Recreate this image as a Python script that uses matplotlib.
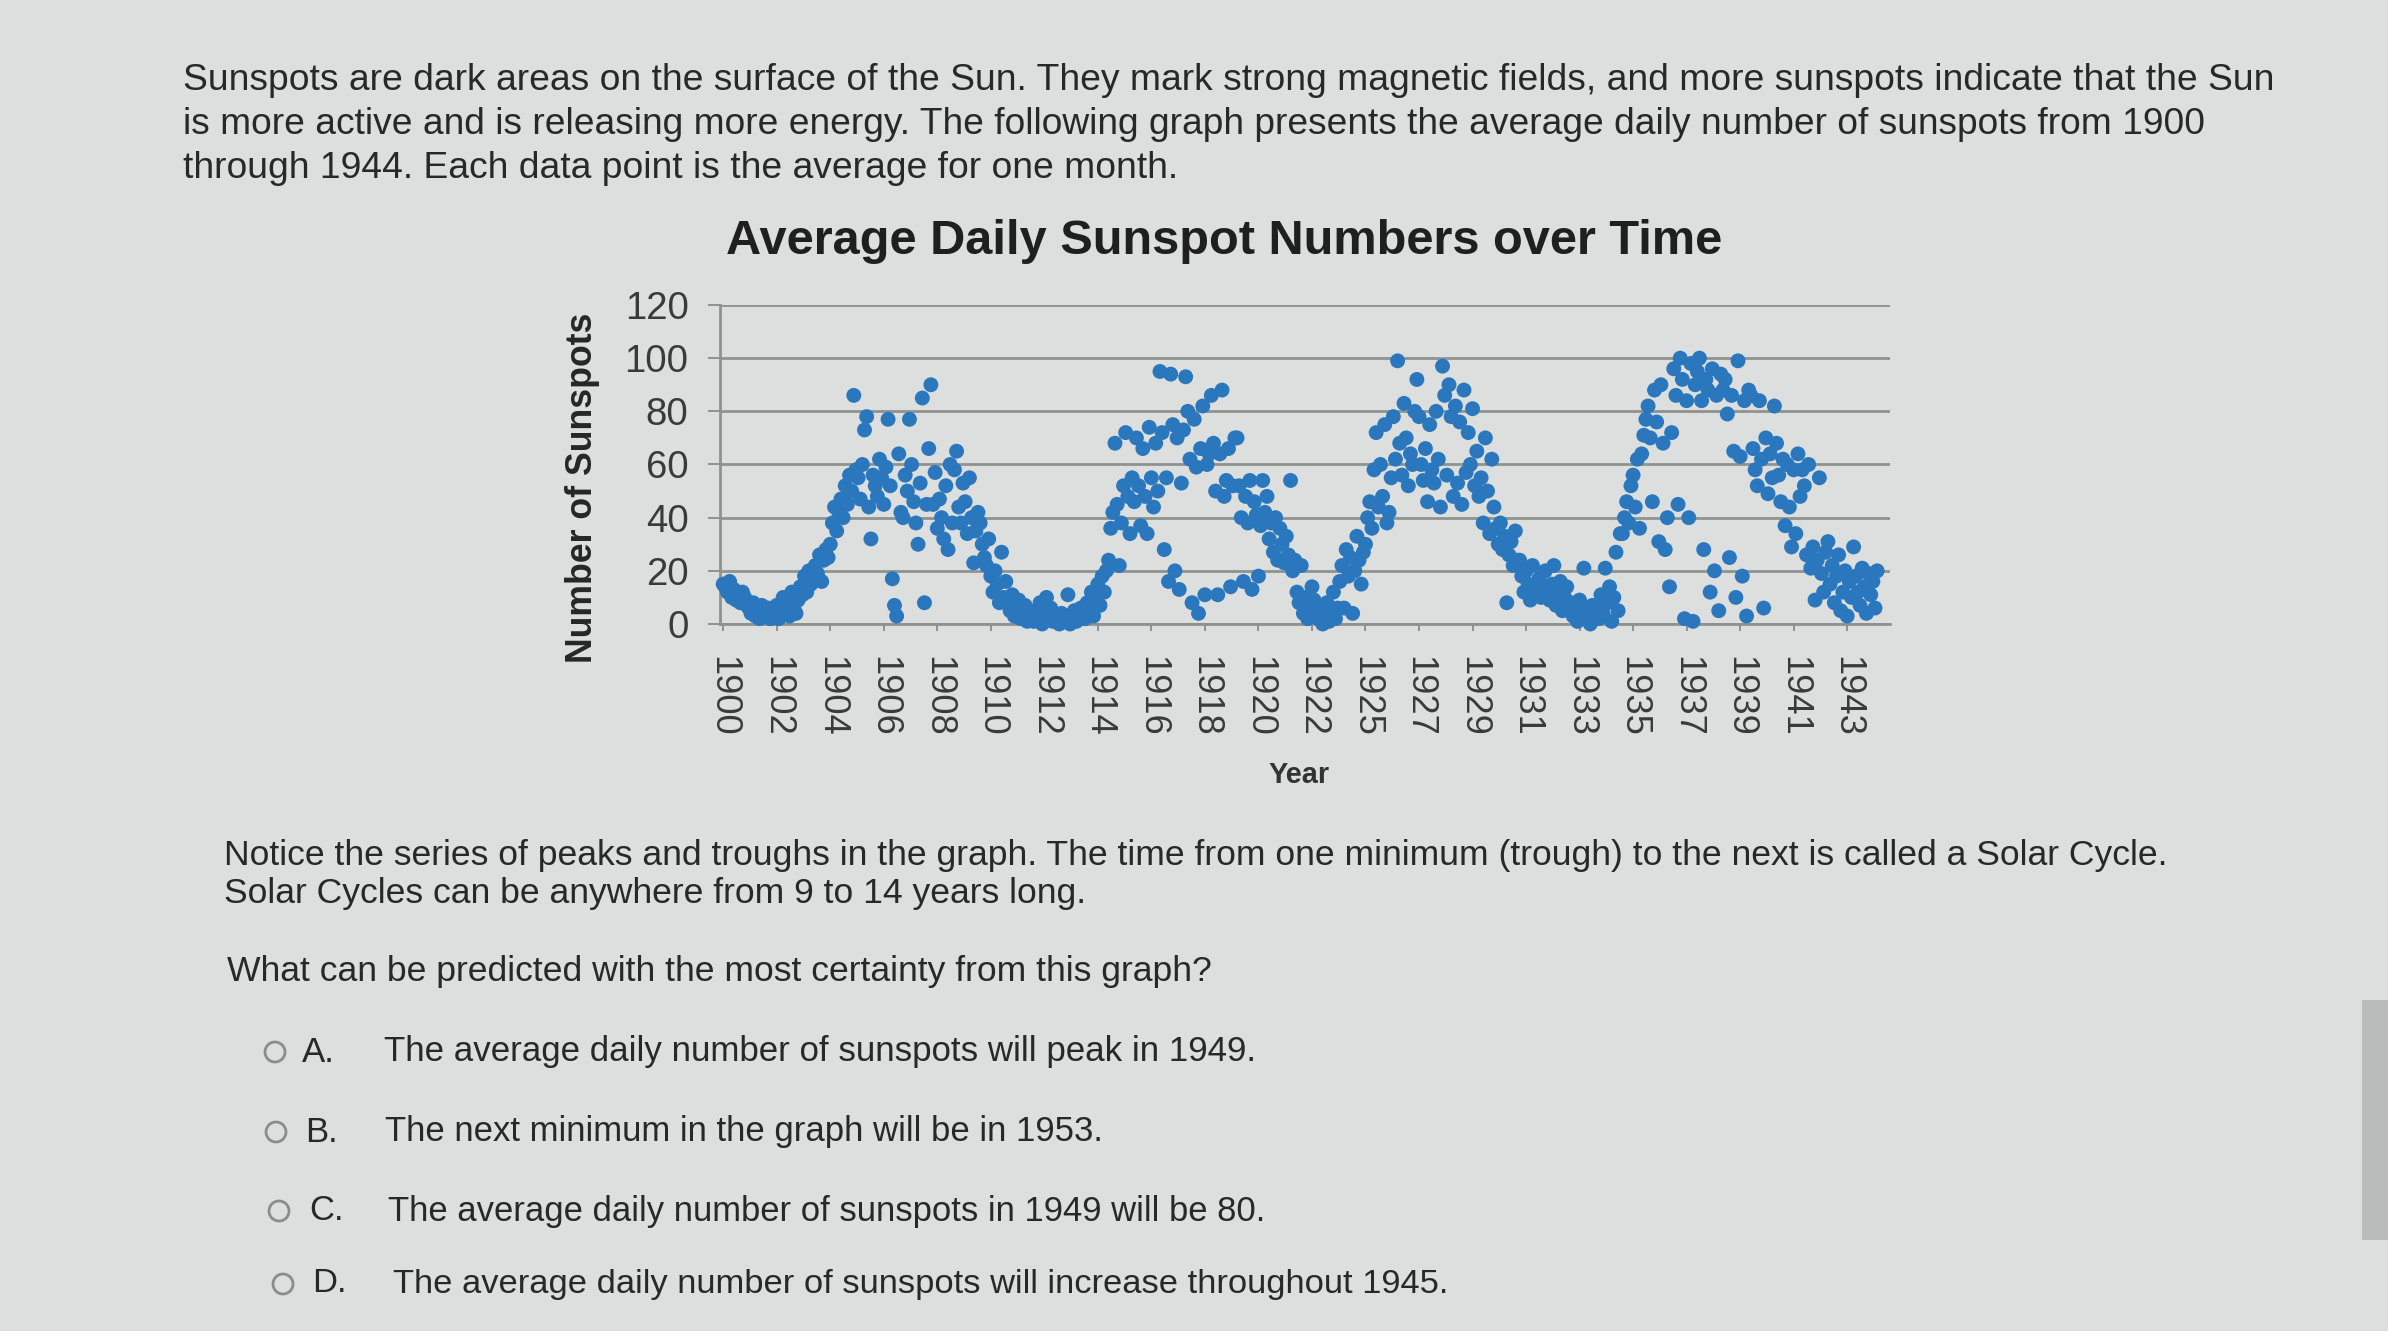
import matplotlib
matplotlib.use("Agg")
import matplotlib.pyplot as plt
from matplotlib import font_manager
from matplotlib.patches import Circle, Rectangle
import numpy as np

# ---------------- data (monthly average daily sunspot numbers) -------------
s1900 = [15, 14, 12, 16, 10, 13, 9, 11, 8, 12, 10, 7]
s1901 = [6, 4, 8, 3, 5, 2, 7, 4, 3, 6, 2, 5]
s1902 = [3, 7, 2, 5, 10, 4, 8, 3, 12, 6, 4, 9]
s1903 = [14, 11, 18, 12, 20, 15, 17, 22, 19, 26, 16, 24]
s1904 = [28, 25, 30, 38, 44, 35, 42, 47, 40, 52, 45, 56]
s1905 = [50, 86, 58, 55, 47, 60, 73, 78, 44, 32, 56, 52]
s1906 = [48, 62, 55, 45, 59, 77, 52, 17, 7, 3, 64, 42]
s1907 = [40, 56, 50, 77, 60, 46, 38, 30, 53, 85, 8, 45]
s1908 = [66, 90, 45, 57, 36, 47, 40, 32, 52, 28, 60, 38]
s1909 = [58, 65, 44, 38, 53, 46, 34, 55, 40, 23, 35, 42]
s1910 = [38, 30, 25, 22, 32, 18, 12, 20, 15, 8, 27, 10]
s1911 = [16, 8, 5, 11, 3, 6, 9, 2, 4, 7, 1, 5]
s1912 = [3, 1, 5, 2, 8, 0, 4, 10, 2, 6, 1, 3]
s1913 = [2, 0, 4, 1, 3, 11, 0, 2, 5, 1, 3, 6]
s1914 = [4, 2, 8, 6, 12, 3, 10, 15, 7, 18, 12, 20]
s1915 = [24, 36, 42, 68, 45, 22, 38, 52, 72, 48, 34, 55]
s1916 = [46, 70, 52, 37, 66, 48, 34, 74, 55, 44, 68, 50]
s1917 = [95, 72, 28, 55, 16, 94, 75, 20, 70, 13, 53, 73]
s1918 = [93, 80, 62, 8, 77, 59, 4, 66, 82, 11, 60, 64]
s1919 = [86, 68, 50, 11, 64, 88, 48, 54, 66, 14, 52, 70]
s1920 = [70, 52, 40, 16, 48, 38, 54, 13, 46, 41, 18, 37]
s1921 = [54, 42, 48, 32, 38, 27, 40, 24, 36, 30, 23, 33]
s1922 = [26, 54, 20, 24, 12, 8, 22, 4, 10, 2, 6, 14]
s1923 = [9, 4, 2, 6, 0, 3, 8, 1, 5, 12, 2, 6]
s1924 = [16, 22, 6, 28, 18, 25, 4, 20, 33, 24, 15, 27]
s1925 = [30, 40, 46, 36, 58, 72, 44, 60, 48, 75, 38, 42]
s1926 = [55, 78, 62, 99, 68, 56, 83, 70, 52, 64, 60, 80]
s1927 = [92, 78, 60, 54, 66, 46, 75, 58, 53, 80, 62, 44]
s1928 = [97, 86, 56, 90, 78, 48, 82, 53, 76, 45, 88, 57]
s1929 = [72, 60, 81, 52, 65, 48, 55, 38, 70, 50, 34, 62]
s1930 = [44, 36, 30, 38, 28, 33, 8, 26, 31, 22, 35, 24]
s1931 = [24, 18, 12, 20, 15, 9, 22, 14, 11, 17, 10, 13]
s1932 = [20, 12, 9, 15, 22, 7, 11, 16, 5, 10, 14, 8]
s1933 = [8, 3, 6, 1, 9, 4, 21, 2, 5, 0, 7, 3]
s1934 = [6, 2, 11, 4, 21, 8, 14, 1, 10, 27, 5, 34]
s1935 = [34, 40, 46, 38, 52, 56, 44, 62, 36, 64, 71, 77]
s1936 = [82, 70, 46, 88, 76, 31, 90, 68, 28, 40, 14, 72]
s1937 = [96, 86, 45, 100, 92, 2, 84, 40, 98, 1, 90, 95]
s1938 = [100, 84, 28, 92, 88, 12, 96, 20, 86, 5, 94, 88]
s1939 = [92, 79, 25, 86, 65, 10, 99, 63, 18, 84, 3, 88]
s1940 = [86, 66, 58, 52, 84, 62, 6, 70, 49, 64, 55, 82]
s1941 = [68, 56, 46, 62, 37, 60, 44, 29, 58, 34, 64, 48]
s1942 = [58, 52, 26, 60, 21, 29, 9, 24, 55, 19, 12, 27]
s1943 = [31, 15, 22, 8, 18, 26, 5, 12, 20, 3, 16, 10]
s1944 = [29, 18, 12, 7, 21, 14, 4, 19, 11, 16, 6, 20]

years = [s1900, s1901, s1902, s1903, s1904, s1905, s1906, s1907, s1908, s1909,
         s1910, s1911, s1912, s1913, s1914, s1915, s1916, s1917, s1918, s1919,
         s1920, s1921, s1922, s1923, s1924, s1925, s1926, s1927, s1928, s1929,
         s1930, s1931, s1932, s1933, s1934, s1935, s1936, s1937, s1938, s1939,
         s1940, s1941, s1942, s1943, s1944]

tick_labels = ["1900", "1902", "1904", "1906", "1908", "1910", "1912", "1914",
               "1916", "1918", "1920", "1922", "1925", "1927", "1929", "1931",
               "1933", "1935", "1937", "1939", "1941", "1943"]
yticks = [0, 20, 40, 60, 80, 100, 120]

title = "Average Daily Sunspot Numbers over Time"
ylabel = "Number of Sunspots"
xlabel = "Year"

para1 = ["Sunspots are dark areas on the surface of the Sun. They mark strong magnetic fields, and more sunspots indicate that the Sun",
         "is more active and is releasing more energy. The following graph presents the average daily number of sunspots from 1900",
         "through 1944. Each data point is the average for one month."]
para2 = ["Notice the series of peaks and troughs in the graph. The time from one minimum (trough) to the next is called a Solar Cycle.",
         "Solar Cycles can be anywhere from 9 to 14 years long."]
question = "What can be predicted with the most certainty from this graph?"
opt_letters = ["A.", "B.", "C.", "D."]
opt_texts = ["The average daily number of sunspots will peak in 1949.",
             "The next minimum in the graph will be in 1953.",
             "The average daily number of sunspots in 1949 will be 80.",
             "The average daily number of sunspots will increase throughout 1945."]

# ---------------- style ----------------
W, H = 2388, 1331
BG = "#dcdfdd"
TXT = "#282828"
GRID = "#8f9390"
DOT = "#2a77bd"

names = {f.name for f in font_manager.fontManager.ttflist}
FONT = "Liberation Sans Narrow" if "Liberation Sans Narrow" in names else "Liberation Sans"

fig = plt.figure(figsize=(W / 100, H / 100), dpi=100)
fig.patch.set_facecolor(BG)
renderer = fig.canvas.get_renderer()

# background overlay axes in pixel coordinates
bg = fig.add_axes([0, 0, 1, 1], zorder=0)
bg.set_xlim(0, W)
bg.set_ylim(H, 0)
bg.axis("off")
bg.add_patch(Rectangle((2362, 1000), 26, 240, color="#b9bcba", lw=0))


def size_for(s, width, weight="normal", rotation=0, dim="width"):
    t = fig.text(0, 0, s, fontsize=20, family=FONT, weight=weight, rotation=rotation)
    bb = t.get_window_extent(renderer)
    t.remove()
    return 20 * width / (bb.width if dim == "width" else bb.height)


def fit_text(x0, x1, yc, s, weight="normal", color=TXT):
    fs = size_for(s, x1 - x0, weight)
    fig.text(x0 / W, 1 - yc / H, s, fontsize=fs, family=FONT, weight=weight,
             color=color, ha="left", va="center")


# paragraph text
for line, (x0, x1, yc) in zip(para1, [(183, 2265, 81), (183, 2201, 125), (183, 1173, 168)]):
    fit_text(x0, x1, yc, line)
for line, (x0, x1, yc) in zip(para2, [(224, 2163, 856), (224, 1084, 894)]):
    fit_text(x0, x1, yc, line)
fit_text(227, 1208, 972, question)

opt_geom = [(275, 302, 384, 1253, 1052), (276, 305, 385, 1104, 1132),
            (279, 309, 388, 1264, 1211), (283, 312, 393, 1444, 1284)]
for letter, text, (cx, lx, tx0, tx1, yc) in zip(opt_letters, opt_texts, opt_geom):
    bg.add_patch(Circle((cx, yc), 10, fill=False, ec="#8a8d8b", lw=2.0))
    fs = size_for(text, tx1 - tx0)
    fig.text(lx / W, 1 - yc / H, letter, fontsize=fs, family=FONT, color=TXT,
             ha="left", va="center")
    fig.text(tx0 / W, 1 - yc / H, text, fontsize=fs, family=FONT, color=TXT,
             ha="left", va="center")

# title and axis labels
fs_title = size_for(title, 996, "bold")
fig.text(1224 / W, 1 - 241 / H, title, fontsize=fs_title, family=FONT, weight="bold",
         color="#1f1f1f", ha="center", va="center")
fs_ylab = size_for(ylabel, 351, "bold", rotation=90, dim="height")
fig.text(583 / W, 1 - 488 / H, ylabel, fontsize=fs_ylab, family=FONT, weight="bold",
         color="#262626", ha="center", va="center", rotation=90)
fs_xlab = size_for(xlabel, 61, "bold")
fig.text(1299 / W, 1 - 775 / H, xlabel, fontsize=fs_xlab, family=FONT, weight="bold",
         color="#333333", ha="center", va="center")

# ---------------- chart ----------------
L, R, T, B = 720, 1890, 305, 624
ax = fig.add_axes([L / W, 1 - B / H, (R - L) / W, (B - T) / H], zorder=2)
ax.set_facecolor("none")

values = np.concatenate([np.asarray(v, dtype=float) for v in years])
months = np.arange(len(values))

ax.set_ylim(0, 120)
ax.set_xlim(-1.5, 545)
ax.set_yticks(yticks)
ax.yaxis.grid(True, color=GRID, lw=2.0, zorder=1)
ax.set_axisbelow(True)
ax.scatter(months, values, s=115, color=DOT, edgecolors="none", zorder=3, clip_on=False)

ax.set_xticks(np.arange(0, 25 * len(tick_labels), 25))
fs_xt = size_for("1900", 81, rotation=-90, dim="height")
ax.set_xticklabels(tick_labels, rotation=-90, fontsize=fs_xt, family=FONT, color="#3a3a3a")
fs_yt = size_for("120", 64)
ax.set_yticklabels([str(v) for v in yticks], fontsize=fs_yt, family=FONT, color="#3a3a3a")

ax.tick_params(axis="y", length=8.6, width=1.4, color=GRID, pad=14)
ax.tick_params(axis="x", length=5, width=1.4, color=GRID, pad=18)
for side in ("top", "right"):
    ax.spines[side].set_visible(False)
for side in ("left", "bottom"):
    ax.spines[side].set_color(GRID)
    ax.spines[side].set_linewidth(2.0)

fig.savefig("out.png", dpi=100, facecolor=BG)
